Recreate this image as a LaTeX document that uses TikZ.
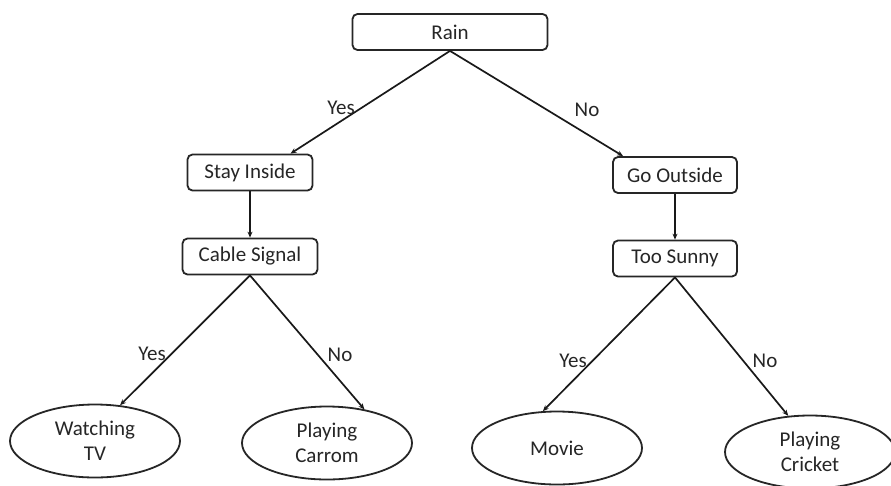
\documentclass[tikz,border=0pt]{standalone}
\usepackage{fontspec}
\setmainfont{Carlito}
\usetikzlibrary{shapes.geometric,arrows.meta}
\begin{document}
\begin{tikzpicture}[x=1pt,y=-1pt,
  every node/.style={text=black!85, font=\fontsize{21}{25}\selectfont},
  box/.style={draw=black!85, line width=1.8pt, rounded corners=5pt, minimum height=36pt, inner sep=0pt, align=center},
  leaf/.style={draw=black!85, line width=1.8pt, ellipse, minimum width=170pt, minimum height=73pt, inner sep=0pt, align=center},
  link/.style={draw=black!90, line width=1.7pt, -{Stealth[length=6pt,width=5pt]}},
  lbl/.style={inner sep=0pt}]
\useasboundingbox (0,0) rectangle (891,485);
\fill[white] (0,0) rectangle (891,485);

% decision boxes
\node[box, minimum width=125pt] (stay)  at (250,172.5) {Stay Inside};
\node[box, minimum width=195pt] (rain)  at (450,32)    {Rain};
\node[box, minimum width=135pt] (cable) at (250,256.5) {Cable Signal};
\node[box, minimum width=124pt] (go)    at (675,175)   {Go Outside};
\node[box, minimum width=124pt] (sunny) at (675,258.5) {Too Sunny};

% outcomes
\node[leaf] (tv)      at (95,441)  {Watching\\TV};
\node[leaf] (carrom)  at (327,443) {Playing\\Carrom};
\node[leaf] (movie)   at (557,448) {Movie};
\node[leaf] (cricket) at (810,452) {Playing\\Cricket};

% connectors
\draw[link] (rain.south) -- (stay.25);
\draw[link] (rain.south) -- (go.160);
\draw[link] (stay.south) -- (cable.north);
\draw[link] (go.south) -- (sunny.north);
\draw[link] (cable.south) -- (tv.55);
\draw[link] (cable.south) -- (carrom.42);
\draw[link] (sunny.south) -- (movie.111);
\draw[link] (sunny.south) -- (cricket.121);

% branch labels
\node[lbl] (y1) at (341,108) {Yes};
\node[lbl] (n1) at (587,110) {No};
\node[lbl] (y2) at (152,354) {Yes};
\node[lbl] (n2) at (340,355) {No};
\node[lbl] (y3) at (573,361) {Yes};
\node[lbl] (n3) at (765,361) {No};
\end{tikzpicture}
\end{document}
